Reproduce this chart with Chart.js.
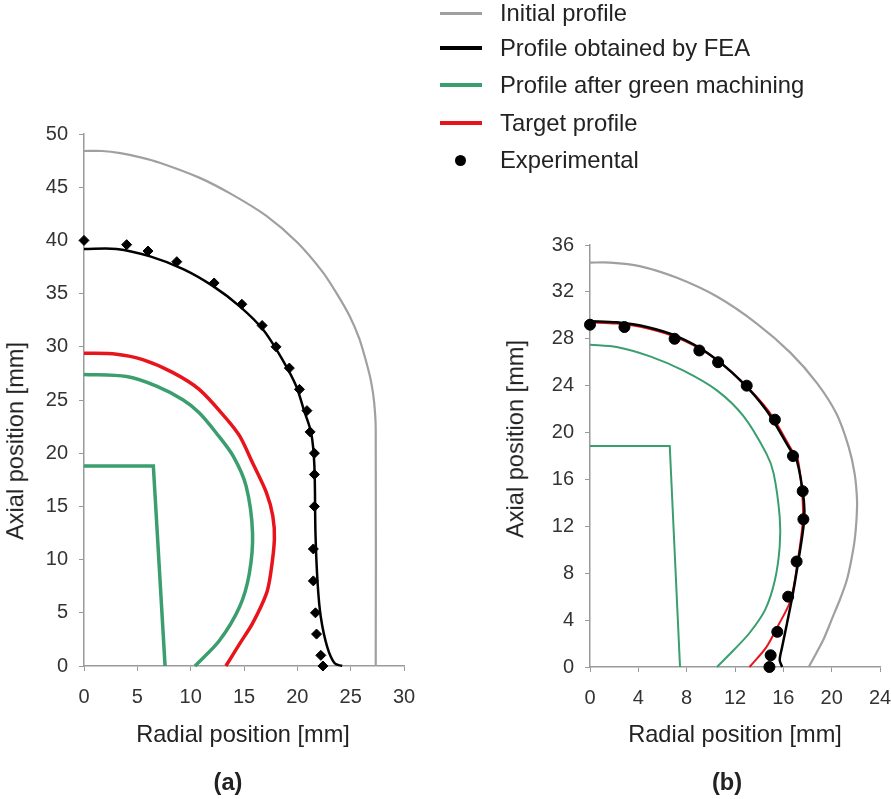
<!DOCTYPE html>
<html>
<head>
<meta charset="utf-8">
<script src="https://cdn.jsdelivr.net/npm/chart.js@4.4.1/dist/chart.umd.min.js"></script>
<style>
  body { margin: 0; width: 891px; height: 799px; overflow: hidden; background: #fff; font-family: "Liberation Sans", Arial, sans-serif; color: #222; }
  canvas { position: absolute; top: 0; }
  .txt { position: absolute; white-space: nowrap; font-size: 23.6px; line-height: 1; }
  .ytitle { transform: translate(-50%, -50%) rotate(-90deg); }
  .xtitle { transform: translate(-50%, -50%); }
  .panel { font-weight: bold; transform: translate(-50%, -50%); }
  .leg { position: absolute; left: 440px; width: 450px; height: 30px; }
  .leg .ln { position: absolute; left: 0; width: 42px; top: 50%; }
  .leg .dot { position: absolute; left: 15px; width: 11px; height: 11px; border-radius: 50%; background: #000; top: 50%; margin-top: -5px; }
  .leg span { position: absolute; left: 60px; top: 50%; transform: translateY(-50%); font-size: 23.8px; }
</style>
</head>
<body>
<canvas id="chartA" width="445" height="799" style="left:0"></canvas>
<canvas id="chartB" width="480" height="799" style="left:445px"></canvas>

<div class="leg" style="top:-2px"><div class="ln" style="height:3px;margin-top:-1px;background:#a0a0a0"></div><span>Initial profile</span></div>
<div class="leg" style="top:33px"><div class="ln" style="height:4px;margin-top:-2px;background:#000"></div><span>Profile obtained by FEA</span></div>
<div class="leg" style="top:70px"><div class="ln" style="height:4px;margin-top:-2px;background:#3a9e6e"></div><span>Profile after green machining</span></div>
<div class="leg" style="top:108px"><div class="ln" style="height:4px;margin-top:-2px;background:#e8141c"></div><span>Target profile</span></div>
<div class="leg" style="top:145px"><div class="dot"></div><span>Experimental</span></div>

<div class="txt ytitle" style="left:16px;top:441px">Axial position [mm]</div>
<div class="txt xtitle" style="left:243px;top:735px">Radial position [mm]</div>
<div class="txt panel" style="left:228px;top:783px">(a)</div>
<div class="txt ytitle" style="left:516px;top:439px">Axial position [mm]</div>
<div class="txt xtitle" style="left:735px;top:735px">Radial position [mm]</div>
<div class="txt panel" style="left:727px;top:783px">(b)</div>

<script>
// panel (a) - radial [mm] / axial [mm]
var aInitialR = [0, 1.7, 3.4, 5.3, 7.1, 10.8, 13.9, 17.1, 20.0, 22.4, 23.7, 24.9, 25.8, 26.4, 26.9, 27.2, 27.35, 27.35];
var aInitialZ = [48.4, 48.4, 48.2, 47.8, 47.3, 45.9, 44.3, 42.3, 39.8, 37.0, 35.0, 32.9, 30.8, 28.8, 26.8, 24.8, 22.2, 0];
var aFeaR = [0, 3.05, 6.2, 9.3, 12.1, 14.6, 16.8, 18.6, 19.9, 20.6, 21.3, 21.6, 21.7, 21.9, 22.2, 22.8, 23.5, 24.2];
var aFeaZ = [39.2, 39.2, 38.5, 37.3, 35.7, 33.8, 31.6, 28.8, 26.3, 24.1, 21.9, 18.8, 12.5, 7.8, 4.6, 1.8, 0.25, 0];
var aGreenR = [0, 4.0, 6.8, 9.3, 10.8, 12.4, 14.0, 15.2, 15.8, 15.5, 14.6, 12.7, 10.4];
var aGreenZ = [27.4, 27.2, 26.3, 25.0, 23.8, 21.9, 19.7, 16.9, 12.5, 8.7, 5.6, 2.4, 0];
var aCoreR = [0, 6.5, 7.6];
var aCoreZ = [18.8, 18.8, 0];
var aTargetR = [0, 3.05, 5.5, 8.3, 10.8, 13.3, 14.6, 15.8, 17.1, 17.7, 17.85, 17.5, 17.1, 15.8, 14.6, 13.3];
var aTargetZ = [29.4, 29.3, 28.8, 27.6, 26.0, 23.3, 21.6, 19.1, 16.3, 14.1, 11.9, 8.7, 6.8, 4.0, 2.1, 0];
var aExpR = [0, 4.0, 6.0, 8.7, 12.2, 14.8, 16.7, 18.0, 19.25, 20.2, 20.9, 21.2, 21.6, 21.6, 21.6, 21.5, 21.5, 21.7, 21.8, 22.2, 22.4];
var aExpZ = [40, 39.6, 39, 38, 36, 34, 32, 30, 28, 26, 24, 22, 20, 18, 15, 11, 8, 5, 3, 1, 0];

// panel (b)
var bInitialR = [0, 1.66, 4.1, 7.2, 10.5, 13.8, 16.6, 18.8, 20.4, 21.4, 21.9, 22.1, 22.05, 21.9, 21.6, 21.25, 20.7, 20.1, 19.3, 18.1];
var bInitialZ = [34.5, 34.5, 34.2, 33.2, 31.6, 29.3, 26.8, 24.2, 21.6, 18.8, 16.5, 14.2, 12.5, 10.8, 9.0, 7.4, 5.8, 4.3, 2.3, 0];
var bFeaR = [0, 2.2, 4.7, 7.2, 9.7, 12.4, 14.6, 16.6, 17.1, 17.7, 17.7, 17.25, 16.8, 16.3, 15.9, 15.7, 15.9];
var bFeaZ = [29.5, 29.4, 29.0, 28.2, 26.8, 24.5, 21.9, 18.5, 17.7, 14.2, 12.3, 9.1, 6.3, 3.7, 1.7, 0.6, 0];
var bGreenR = [0, 2.2, 4.97, 7.7, 10.5, 12.7, 14.6, 15.2, 15.7, 15.7, 15.3, 14.5, 13.2, 11.9, 10.5];
var bGreenZ = [27.5, 27.3, 26.5, 25.3, 23.6, 21.4, 18.2, 16.5, 12.8, 10.3, 7.4, 4.9, 2.9, 1.45, 0];
var bCoreR = [0, 6.6, 7.45];
var bCoreZ = [18.86, 18.86, 0];
var bTargetR = [0, 2.2, 4.7, 7.2, 9.8, 12.5, 14.8, 16.7, 17.2, 17.6, 17.6, 17.2, 16.6, 15.5, 14.6, 13.2];
var bTargetZ = [29.4, 29.3, 28.9, 28.1, 26.7, 24.4, 21.8, 18.5, 17.7, 14.2, 12.3, 9.1, 5.7, 3.4, 1.7, 0];
var bExpR = [0, 2.85, 7.0, 9.05, 10.6, 12.97, 15.3, 16.8, 17.6, 17.66, 17.1, 16.4, 15.5, 14.95, 14.85];
var bExpZ = [29.2, 29.0, 28.0, 27.0, 26.0, 24.0, 21.1, 18.0, 15.0, 12.6, 9.0, 6.0, 3.0, 1.0, 0];

var GRAY = '#a0a0a0', BLACK = '#000000', GREEN = '#3a9e6e', RED = '#e8141c';

function pts(r, z) {
  var out = [];
  for (var i = 0; i < r.length; i++) out.push({x: r[i], y: z[i]});
  return out;
}

function line(label, r, z, color, width, tension) {
  return {
    label: label, data: pts(r, z), showLine: true, borderColor: color, backgroundColor: color,
    borderWidth: width, pointRadius: 0, tension: tension, clip: false
  };
}

function scaleOpts(max, step, size, fixed, pad) {
  return {
    type: 'linear', min: 0, max: max,
    ticks: { stepSize: step, color: '#333', padding: pad, font: { family: 'Liberation Sans, Arial', size: 20 } },
    grid: { drawOnChartArea: false, drawTicks: true, tickLength: 5, color: '#9a9a9a' },
    border: { color: '#9a9a9a', width: 1.5 },
    afterFit: function(s) { s[size] = fixed; }
  };
}

function makeChart(id, sets, xMax, xStep, yMax, yStep, pad, yWidth, xHeight) {
  return new Chart(document.getElementById(id), {
    type: 'scatter',
    data: { datasets: sets },
    options: {
      responsive: false, animation: false,
      layout: { padding: pad },
      plugins: { legend: { display: false }, tooltip: { enabled: false } },
      scales: {
        x: scaleOpts(xMax, xStep, 'height', xHeight, 14),
        y: scaleOpts(yMax, yStep, 'width', yWidth, 11)
      }
    }
  });
}

var setsA = [
  { label: 'Experimental', data: pts(aExpR, aExpZ), pointStyle: 'rectRot', pointRadius: 5, backgroundColor: BLACK, borderColor: BLACK, showLine: false, clip: false },
  line('Profile obtained by FEA', aFeaR, aFeaZ, BLACK, 2.5, 0.3),
  line('Target profile', aTargetR, aTargetZ, RED, 3.5, 0.3),
  line('Profile after green machining', aGreenR, aGreenZ, GREEN, 3.5, 0.3),
  line('Profile after green machining', aCoreR, aCoreZ, GREEN, 3.5, 0),
  line('Initial profile', aInitialR, aInitialZ, GRAY, 2.2, 0.25)
];

var setsB = [
  { label: 'Experimental', data: pts(bExpR, bExpZ), pointStyle: 'circle', pointRadius: 5.5, backgroundColor: BLACK, borderColor: BLACK, showLine: false, clip: false },
  line('Profile obtained by FEA', bFeaR, bFeaZ, BLACK, 2.5, 0.3),
  line('Target profile', bTargetR, bTargetZ, RED, 2, 0.3),
  line('Profile after green machining', bGreenR, bGreenZ, GREEN, 2, 0.3),
  line('Profile after green machining', bCoreR, bCoreZ, GREEN, 2, 0),
  line('Initial profile', bInitialR, bInitialZ, GRAY, 2.2, 0.25)
];

makeChart('chartA', setsA, 30, 5, 50, 5, {top: 134, left: 0, right: 41, bottom: 0}, 84, 133);
makeChart('chartB', setsB, 24, 4, 36, 4, {top: 245, left: 0, right: 45, bottom: 0}, 145, 132);
</script>
</body>
</html>
